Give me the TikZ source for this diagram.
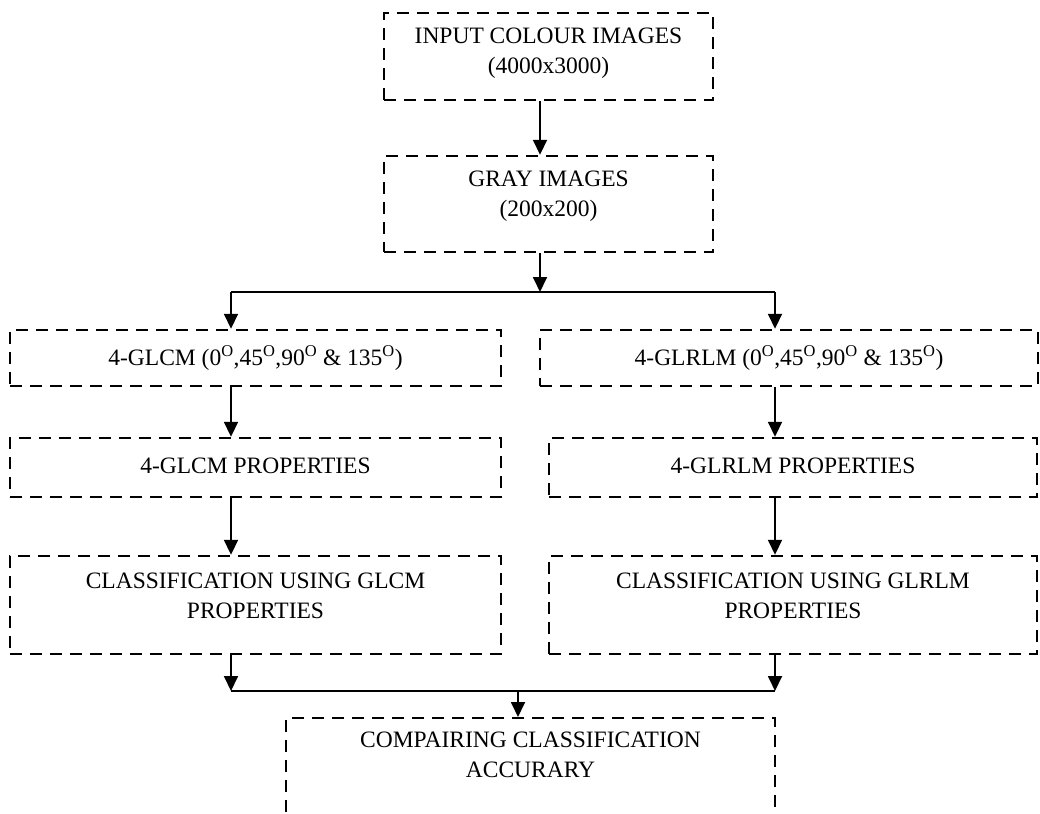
\documentclass[tikz,border=0pt]{standalone}
\usepackage{fontspec}
\setmainfont{Liberation Serif}
\usetikzlibrary{arrows.meta}
\tikzset{
  dbox/.style={draw=black, line width=2.4pt, dash pattern=on 12pt off 8pt, inner sep=0pt},
  txt/.style={font=\fontsize{23.5}{29.5}\selectfont, align=center, inner sep=0pt},
  arr/.style={line width=1.8pt, -{Triangle[length=15pt,width=14pt]}},
  conn/.style={line width=1.8pt}
}
\newcommand{\dg}{\textsuperscript{O}}
\begin{document}
\begin{tikzpicture}[x=1pt,y=-1pt]
\useasboundingbox (0,0) rectangle (1040,813);
\clip (0,0) rectangle (1040,813);
% boxes
\node[dbox, minimum width=329pt, minimum height=87pt] (top) at (548.5,56.5) {};
\node[dbox, minimum width=329pt, minimum height=96pt] (gray) at (548.5,204) {};
\node[dbox, minimum width=491pt, minimum height=56pt] (glcm) at (255.5,358) {};
\node[dbox, minimum width=498pt, minimum height=56pt] (glrlm) at (789,358) {};
\node[dbox, minimum width=491pt, minimum height=59pt] (glcmp) at (255.5,467.5) {};
\node[dbox, minimum width=488pt, minimum height=59pt] (glrlmp) at (793,467.5) {};
\node[dbox, minimum width=491pt, minimum height=98pt] (clsl) at (255.5,605) {};
\node[dbox, minimum width=488pt, minimum height=98pt] (clsr) at (793,605) {};
\node[dbox, minimum width=489pt, minimum height=160pt, anchor=north] (cmp) at (530.5,717) {};
% texts
\node[txt] (topT) at (548.5,53) {INPUT COLOUR IMAGES\\(4000x3000)};
\node[txt] (grayT) at (548.5,196) {GRAY IMAGES\\(200x200)};
\node[txt] (glcmT) at (255.5,358) {4-GLCM (0\dg,45\dg,90\dg{} \& 135\dg)};
\node[txt] (glrlmT) at (789,358) {4-GLRLM (0\dg,45\dg,90\dg{} \& 135\dg)};
\node[txt] (glcmpT) at (255.5,466) {4-GLCM PROPERTIES};
\node[txt] (glrlmpT) at (793,466) {4-GLRLM PROPERTIES};
\node[txt] (clslT) at (255.5,596) {CLASSIFICATION USING GLCM\\PROPERTIES};
\node[txt] (clsrT) at (793,596) {CLASSIFICATION USING GLRLM\\PROPERTIES};
\node[txt] (cmpT) at (530.5,755) {COMPAIRING CLASSIFICATION\\ACCURARY};
% junction coordinates
\coordinate (c1) at (540,292);
\coordinate (jl) at (231,292);
\coordinate (jr) at (775,292);
\coordinate (ml) at (231,691);
\coordinate (mr) at (775,691);
\coordinate (mm) at (518,691);
% connectors
\draw[arr] (top.south -| c1) -- (gray.north -| c1);
\draw[arr] (gray.south -| c1) -- (c1);
\draw[conn] (jl) -- (jr);
\draw[arr] (jl) -- (glcm.north -| jl);
\draw[arr] (jr) -- (glrlm.north -| jr);
\draw[arr] (glcm.south -| jl) -- (glcmp.north -| jl);
\draw[arr] (glrlm.south -| jr) -- (glrlmp.north -| jr);
\draw[arr] (glcmp.south -| jl) -- (clsl.north -| jl);
\draw[arr] (glrlmp.south -| jr) -- (clsr.north -| jr);
\draw[arr] (clsl.south -| ml) -- (ml);
\draw[arr] (clsr.south -| mr) -- (mr);
\draw[conn] (ml) -- (mr);
\draw[arr] (mm) -- (cmp.north -| mm);
\end{tikzpicture}
\end{document}
